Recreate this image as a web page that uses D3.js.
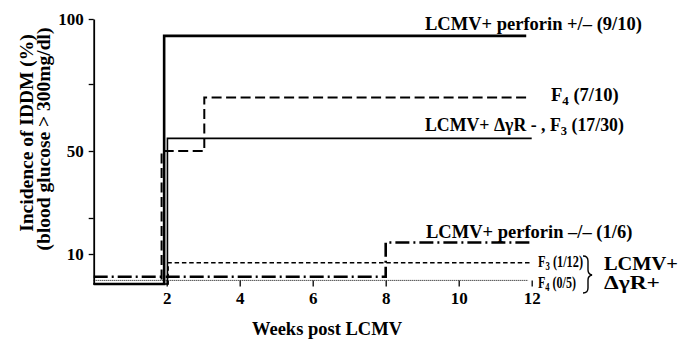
<!DOCTYPE html>
<html>
<head>
<meta charset="utf-8">
<script src="https://cdn.jsdelivr.net/npm/d3@7"></script>
<style>
  html, body { margin: 0; padding: 0; background: #fff; }
  svg { display: block; }
  text { font-family: "Liberation Serif", "Times New Roman", serif; font-weight: bold; fill: #000; }
</style>
</head>
<body>
<svg id="chart" width="698" height="346"></svg>
<script>
// Cumulative incidence of IDDM after LCMV infection (step curves)
// each series: weeks at which the curve changes, and incidence (%) from that week on
const perforinHetWeeks = [0, 1.93, 11.85];
const perforinHetValues = [0, 93.5, 93.5];

const f4DgrMinusWeeks = [0, 1.86, 3.03, 11.9];
const f4DgrMinusValues = [0, 50, 70, 70];

const f3DgrMinusWeeks = [0, 2.02, 12];
const f3DgrMinusValues = [0, 54.7, 54.7];

const perforinKoWeeks = [0, 8, 11.95];
const perforinKoValues = [2.4, 14.8, 14.8];

const f3DgrPlusWeeks = [0, 2.04, 12];
const f3DgrPlusValues = [0, 7.1, 7.1];

const f4DgrPlusWeeks = [0, 11.9];
const f4DgrPlusValues = [1.2, 1.2];

const xTicks = [2, 4, 6, 8, 10, 12];
const yTicks = [10, 25, 50, 75, 100];
const yTickLabels = [10, 50, 100];

const svg = d3.select("#chart");

// the vertical axis is stretched non-uniformly, as printed
const x = d3.scaleLinear().domain([0, 12]).range([93.7, 531.7]);
const y = d3.scaleLinear().domain([0, 10, 25, 50, 75, 100]).range([284, 254, 218, 151, 84, 19]);

const series = [
  { w: perforinHetWeeks, v: perforinHetValues, width: 2.6, dash: null },
  { w: f3DgrMinusWeeks, v: f3DgrMinusValues, width: 1.6, dash: null },
  { w: f4DgrMinusWeeks, v: f4DgrMinusValues, width: 2, dash: "10,4.5" },
  { w: perforinKoWeeks, v: perforinKoValues, width: 2.6, dash: "14,4,2,4" },
  { w: f3DgrPlusWeeks, v: f3DgrPlusValues, width: 1.5, dash: "4.5,2.8" },
  { w: f4DgrPlusWeeks, v: f4DgrPlusValues, width: 1, dash: "1,1" }
];

const line = d3.line().curve(d3.curveStepAfter);

series.forEach(s => {
  const pts = s.w.map((wk, i) => [x(wk), y(s.v[i])]);
  svg.append("path")
    .attr("d", line(pts))
    .attr("fill", "none")
    .attr("stroke", "#000")
    .attr("stroke-width", s.width)
    .attr("stroke-dasharray", s.dash);
});

const FS = 18.5;

// y axis
const yAxis = svg.append("g")
  .attr("transform", `translate(${x(0)},0)`)
  .call(d3.axisLeft(y).tickValues(yTicks)
    .tickFormat(d => yTickLabels.includes(d) ? d : "")
    .tickSize(5).tickSizeOuter(0).tickPadding(5));
yAxis.select(".domain").attr("stroke-width", 1.8);
yAxis.selectAll(".tick line").attr("stroke-width", 1.3);
yAxis.selectAll("text").style("font-size", "17px").attr("font-family", null);

// x axis: ticks only, hanging from the baseline
const xAxis = svg.append("g")
  .attr("transform", `translate(0,${y(1.2)})`)
  .call(d3.axisBottom(x).tickValues(xTicks).tickSize(6).tickPadding(6));
xAxis.select(".domain").remove();
xAxis.selectAll(".tick line").attr("stroke-width", 1.3);
xAxis.selectAll("text").style("font-size", "17px").attr("font-family", null);

// axis titles
svg.append("text")
  .attr("transform", "translate(33,133) rotate(-90)")
  .attr("text-anchor", "middle")
  .style("font-size", "19.5px")
  .text("Incidence of IDDM (%)");
svg.append("text")
  .attr("transform", "translate(50,139) rotate(-90)")
  .attr("text-anchor", "middle")
  .style("font-size", "19.5px")
  .text("(blood glucose > 300mg/dl)");
svg.append("text")
  .attr("x", 327).attr("y", 335)
  .attr("text-anchor", "middle")
  .style("font-size", FS + "px")
  .text("Weeks post LCMV");

// series labels; the tightly set ones are condensed horizontally to a given width
function label(px, py, parts, fit, size) {
  const fs = size || FS;
  const sub = Math.round(fs * 0.7);
  const shift = Math.round(fs * 0.2);
  const t = svg.append("text").attr("transform", `translate(${px},${py})`).style("font-size", fs + "px");
  parts.forEach(p => {
    if (p.sub) {
      t.append("tspan").attr("dy", shift).style("font-size", sub + "px").text(p.sub);
      t.append("tspan").attr("dy", -shift).text(p.after || "");
    } else {
      t.append("tspan").text(p.t);
    }
  });
  if (fit) {
    const natural = t.node().getComputedTextLength();
    t.attr("transform", `translate(${px},${py}) scale(${fit / natural},1)`);
  }
}
label(425, 30, [{ t: "LCMV+ perforin +/– (9/10)" }]);
label(551, 101, [{ t: "F" }, { sub: "4", after: " (7/10)" }]);
label(425, 131, [{ t: "LCMV+ ΔγR - , F" }, { sub: "3", after: " (17/30)" }], 199);
label(426, 238, [{ t: "LCMV+ perforin –/– (1/6)" }]);
label(538, 267, [{ t: "F" }, { sub: "3", after: " (1/12)" }], 45, 17);
label(538, 288, [{ t: "F" }, { sub: "4", after: " (0/5)" }], 38, 17);
label(604, 270, [{ t: "LCMV+" }], 74);
label(604, 289, [{ t: "ΔγR+" }], 56);

// brace grouping the two ΔγR+ curves
svg.append("path")
  .attr("d", "M583,256 Q588,256 588,261 L588,270 Q588,274 592,275 Q588,276 588,280 L588,288 Q588,293 583,293")
  .attr("fill", "none")
  .attr("stroke", "#000")
  .attr("stroke-width", 1.4);
</script>
</body>
</html>
